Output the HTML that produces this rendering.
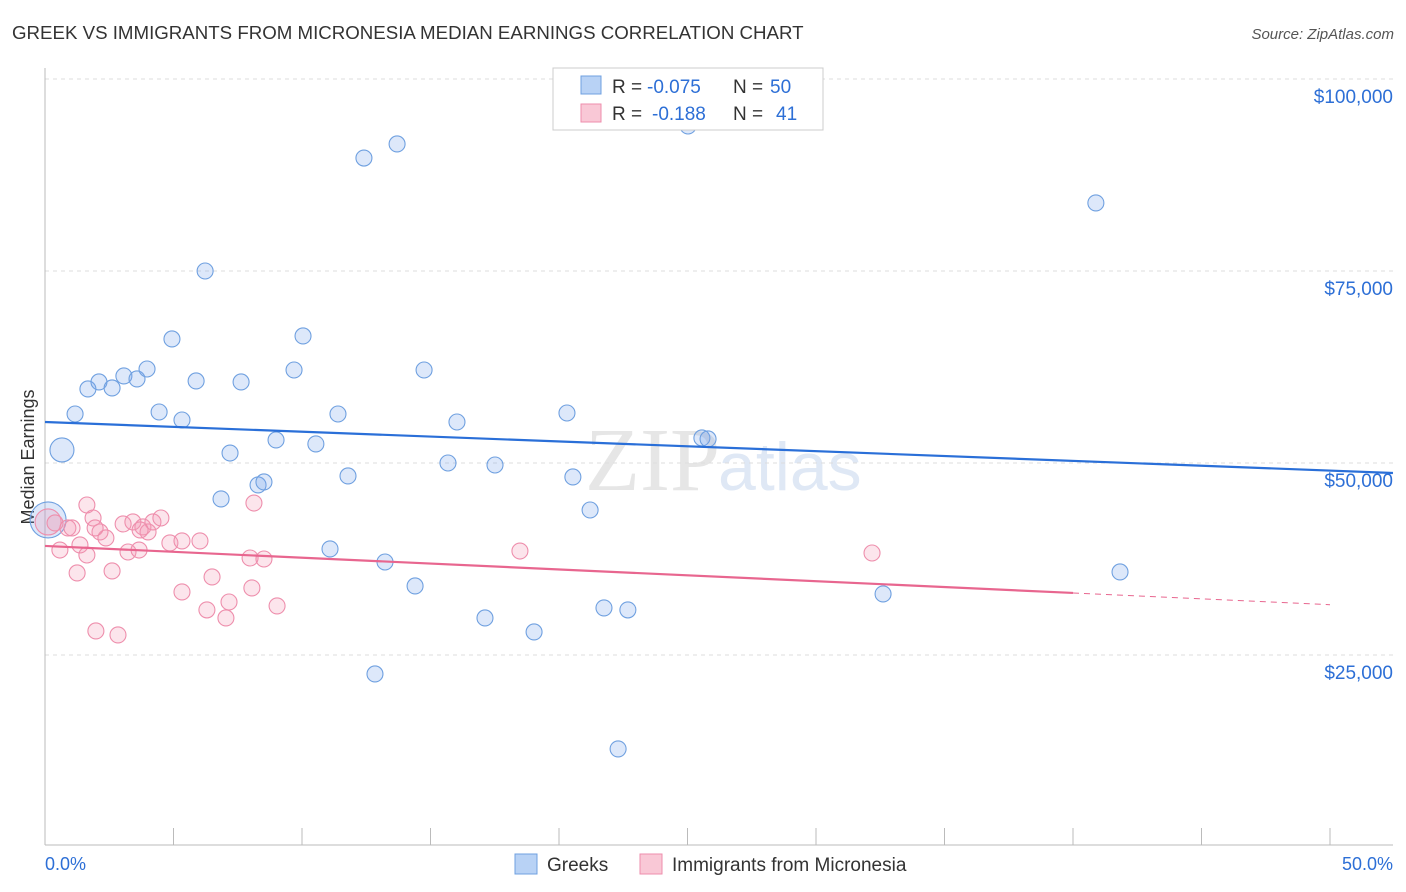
<!DOCTYPE html>
<html><head><meta charset="utf-8">
<style>
body{margin:0;background:#fff;width:1406px;height:892px;overflow:hidden;font-family:"Liberation Sans",sans-serif;}
svg{display:block}
</style></head>
<body>
<svg id="chart" width="1406" height="892">
<text x="12" y="39" font-size="18.7" fill="#333">GREEK VS IMMIGRANTS FROM MICRONESIA MEDIAN EARNINGS CORRELATION CHART</text>
<text x="1394" y="39" font-size="15" fill="#555" font-style="italic" text-anchor="end">Source: ZipAtlas.com</text>
<text x="720" y="490" font-size="90" fill="#e6e6e6" text-anchor="end" font-family="Liberation Serif,serif">ZIP</text>
<text x="718" y="490" font-size="68" fill="#dfe8f5">atlas</text>
<text transform="translate(34,457) rotate(-90)" font-size="18" fill="#333" text-anchor="middle">Median Earnings</text>
<g id="grid"></g><g id="marks"></g>
<g>
<rect x="553" y="68" width="270" height="62" fill="#fff" stroke="#ccc"/>
<rect x="581" y="76" width="20" height="18" fill="#b8d2f5" stroke="#6fa0e0"/>
<rect x="581" y="104" width="20" height="18" fill="#f9c8d6" stroke="#ee8eac"/>
<text x="612" y="93" font-size="19" fill="#333">R =</text>
<text x="647" y="93" font-size="19" fill="#2d6fd6">-0.075</text>
<text x="733" y="93" font-size="19" fill="#333">N =</text>
<text x="770" y="93" font-size="19" fill="#2d6fd6">50</text>
<text x="612" y="120" font-size="19" fill="#333">R =</text>
<text x="652" y="120" font-size="19" fill="#2d6fd6">-0.188</text>
<text x="733" y="120" font-size="19" fill="#333">N =</text>
<text x="776" y="120" font-size="19" fill="#2d6fd6">41</text>
</g>
<g>
<rect x="515" y="854" width="22" height="20" fill="#b8d2f5" stroke="#6fa0e0"/>
<text x="547" y="871" font-size="19" fill="#333">Greeks</text>
<rect x="640" y="854" width="22" height="20" fill="#f9c8d6" stroke="#ee8eac"/>
<text x="672" y="871" font-size="19" fill="#333">Immigrants from Micronesia</text>
</g>
<text x="45" y="870" font-size="18" fill="#2d6fd6">0.0%</text>
<text x="1393" y="870" font-size="18" fill="#2d6fd6" text-anchor="end">50.0%</text>
</svg>
<script>
const yTicks=[100000,75000,50000,25000];
const yTickLabels=["$100,000","$75,000","$50,000","$25,000"];
const xTicks=[0,5,10,15,20,25,30,35,40,45,50];
const greekX=[1.17,1.67,2.10,2.61,3.07,3.58,3.97,4.44,4.94,5.33,5.88,6.23,6.85,7.20,7.63,8.29,8.52,8.99,9.69,10.04,10.54,11.40,11.79,12.41,11.09,13.23,12.84,13.70,14.40,14.75,15.68,16.03,17.12,17.51,19.03,20.31,20.54,21.21,21.75,22.30,22.68,25.02,25.56,25.80,32.61,40.89,41.83,0.66,0.12];
const greekY=[56380,59640,60550,59770,61330,60940,62240,56640,66150,55600,60680,75000,45320,51300,60550,47140,47530,53000,62110,66540,52480,56380,48310,89710,38810,37110,22530,91540,33990,62110,50000,55340,29820,49740,28000,56510,48180,43880,31130,12770,30870,93880,53260,53130,32950,83860,35810,51700,42580];
const greekSize=[8,8,8,8,8,8,8,8,8,8,8,8,8,8,8,8,8,8,8,8,8,8,8,8,8,8,8,8,8,8,8,8,8,8,8,8,8,8,8,8,8,8,8,8,8,8,8,12,18];
const micX=[0.12,0.39,0.58,0.89,1.05,1.25,1.36,1.63,1.63,1.87,1.98,2.14,2.37,2.61,2.84,3.04,3.23,3.42,3.66,3.81,4.01,4.20,4.51,4.86,5.33,5.33,6.03,6.30,6.50,7.04,7.16,7.98,8.05,8.13,8.52,9.03,18.48,32.18,3.70,1.95];
const micY=[42320,42190,38670,41540,41540,35680,39330,44530,38020,42840,28130,41020,40240,35940,27610,42060,38410,42320,38670,41670,41020,42320,42840,39590,33210,39850,39850,30870,35160,29820,31900,37630,33730,44790,37500,31390,38540,38280,41280,41540];
const trendIntercept=[55340,39200];
const trendSlope=[-126.6,-153];
const X=v=>45+v*25.7, Y=v=>79+(100000-v)*192/25000;
const NS="http://www.w3.org/2000/svg";
const grid=document.getElementById('grid'), marks=document.getElementById('marks');
function mk(tag,attrs,parent){const e=document.createElementNS(NS,tag);for(const k in attrs)e.setAttribute(k,attrs[k]);parent.appendChild(e);return e;}
yTicks.forEach((t,i)=>{
 const l=mk('line',{x1:45,x2:1393,y1:Y(t),y2:Y(t),stroke:'#ddd','stroke-dasharray':'4,4'},grid);
 
 
 const tx=mk('text',{x:1393,y:Y(t)+24,'font-size':19,fill:'#2d6fd6','text-anchor':'end'},grid);
 tx.textContent=yTickLabels[i];
 
 
});
const ax=mk('line',{x1:45,x2:1393,y1:845,y2:845,stroke:'#bbb'},grid);


const ay=mk('line',{x1:45,x2:45,y1:68,y2:845,stroke:'#bbb'},grid);


xTicks.forEach(t=>{
 const l=mk('line',{x1:X(t),x2:X(t),y1:828,y2:845,stroke:'#bbb'},grid);
 
 
});
greekX.forEach((x,i)=>{
 const c=mk('circle',{cx:X(x),cy:Y(greekY[i]),r:greekSize[i],fill:'rgba(120,165,235,0.25)',stroke:'#6fa0e0','stroke-width':1.1},marks);
 
 
});
micX.forEach((x,i)=>{
 const c=mk('circle',{cx:X(x),cy:Y(micY[i]),r:i==0?13:8,fill:'rgba(242,150,180,0.25)',stroke:'#ee8eac','stroke-width':1.1},marks);
 
 
});
const tb=mk('line',{x1:X(0),y1:Y(trendIntercept[0]),x2:X(52.45),y2:Y(trendIntercept[0]+trendSlope[0]*52.45),stroke:'#2a6fd8','stroke-width':2.2},marks);


const tp=mk('line',{x1:X(0),y1:Y(trendIntercept[1]),x2:X(40),y2:Y(trendIntercept[1]+trendSlope[1]*40),stroke:'#e8668f','stroke-width':2.2},marks);


const td=mk('line',{x1:X(40),y1:Y(trendIntercept[1]+trendSlope[1]*40),x2:X(50),y2:Y(trendIntercept[1]+trendSlope[1]*50),stroke:'#e8668f','stroke-width':1,'stroke-dasharray':'6,5'},marks);


</script>
</body></html>
